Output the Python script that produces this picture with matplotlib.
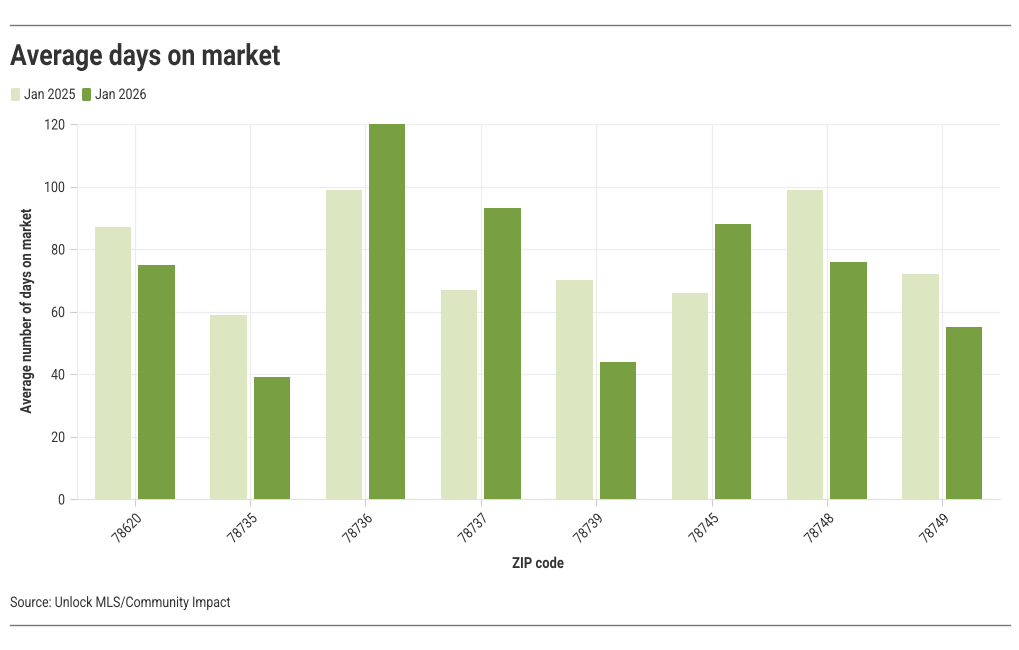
import matplotlib
matplotlib.use("Agg")
import matplotlib.pyplot as plt
import numpy as np
from matplotlib.lines import Line2D
from matplotlib.patches import FancyBboxPatch
from matplotlib.patheffects import AbstractPathEffect
from matplotlib.transforms import Affine2D

zips = ["78620", "78735", "78736", "78737", "78739", "78745", "78748", "78749"]
jan2025 = [87, 59, 99, 67, 70, 66, 99, 72]
jan2026 = [75, 39, 120, 93, 44, 88, 76, 55]
series_names = ["Jan 2025", "Jan 2026"]
yticks = [0, 20, 40, 60, 80, 100, 120]

light = "#dce7c2"
dark = "#78a042"
txt = "#333333"

plt.rcParams['font.family'] = ['Roboto', 'DejaVu Sans']


class Condense(AbstractPathEffect):
    """Horizontally condense text glyphs (along text direction)."""
    def __init__(self, sx=0.85, anchor="left"):
        super().__init__()
        self.sx = sx
        self.anchor = anchor

    def draw_path(self, renderer, gc, tpath, affine, rgbFace=None):
        ext = tpath.get_extents()
        if self.anchor == "right":
            x0 = ext.x1
        elif self.anchor == "center":
            x0 = (ext.x0 + ext.x1) / 2
        else:
            x0 = ext.x0
        t = Affine2D().translate(-x0, 0).scale(self.sx, 1).translate(x0, 0) + affine
        renderer.draw_path(gc, tpath, t, rgbFace)


SX = 0.85

fig = plt.figure(figsize=(10.2, 6.5), dpi=100)
W, H = 1020, 650
ax = fig.add_axes([77 / W, 1 - 499 / H, (1000 - 77) / W, (499 - 124) / H])

x = np.arange(len(zips))
bw = 0.315
off = 0.188
ax.bar(x - off, jan2025, width=bw, color=light, zorder=3)
ax.bar(x + off, jan2026, width=bw, color=dark, zorder=3)

ax.set_xlim(-0.5, len(zips) - 0.5)
ax.set_ylim(0, 120)
ax.set_yticks(yticks)
ax.set_xticks(x)
ax.set_xticklabels(zips, rotation=45, ha="right", va="top", rotation_mode="anchor")
ax.tick_params(axis="both", labelsize=10.5, colors="#cccccc", labelcolor=txt, length=5, width=0.8)
ax.tick_params(axis="x", pad=4)
ax.grid(True, color="#ececec", linewidth=0.8, zorder=0)
for s in ["top", "right"]:
    ax.spines[s].set_visible(False)
ax.spines["left"].set_color("#ececec")
ax.spines["bottom"].set_color("#e0e0e0")

for lab in ax.get_xticklabels():
    lab.set_path_effects([Condense(SX, "right")])
for lab in ax.get_yticklabels():
    lab.set_path_effects([Condense(SX, "right")])

fig.text(538 / W, 1 - 564 / H, "ZIP code", fontsize=11, fontweight="bold", color=txt,
         ha="center", va="center", path_effects=[Condense(SX, "center")])
fig.text(27 / W, 1 - 311 / H, "Average number of days on market", fontsize=11, fontweight="bold",
         color=txt, ha="center", va="center", rotation=90, path_effects=[Condense(SX, "center")])

# rules
fig.add_artist(Line2D([10 / W, 1010 / W], [1 - 25 / H, 1 - 25 / H], color="#777777", linewidth=1))
fig.add_artist(Line2D([10 / W, 1010 / W], [1 - 625 / H, 1 - 625 / H], color="#777777", linewidth=1))

fig.text(10 / W, 1 - 57 / H, "Average days on market", fontsize=21, fontweight="bold",
         color=txt, va="center", ha="left", path_effects=[Condense(SX, "left")])


def legend_item(xpx, color, label):
    fig.add_artist(FancyBboxPatch((xpx / W, 1 - 101 / H), 9 / W, 13 / H,
                                  boxstyle="round,pad=0,rounding_size=0.002",
                                  transform=fig.transFigure, facecolor=color, edgecolor="none"))
    fig.text((xpx + 13) / W, 1 - 95 / H, label, fontsize=10.5, color=txt, va="center", ha="left",
             path_effects=[Condense(SX, "left")])


legend_item(11, light, series_names[0])
legend_item(82, dark, series_names[1])

fig.text(10 / W, 1 - 603 / H, "Source: Unlock MLS/Community Impact", fontsize=10.5,
         color=txt, va="center", ha="left", path_effects=[Condense(SX, "left")])

fig.savefig("out.png", dpi=100)
